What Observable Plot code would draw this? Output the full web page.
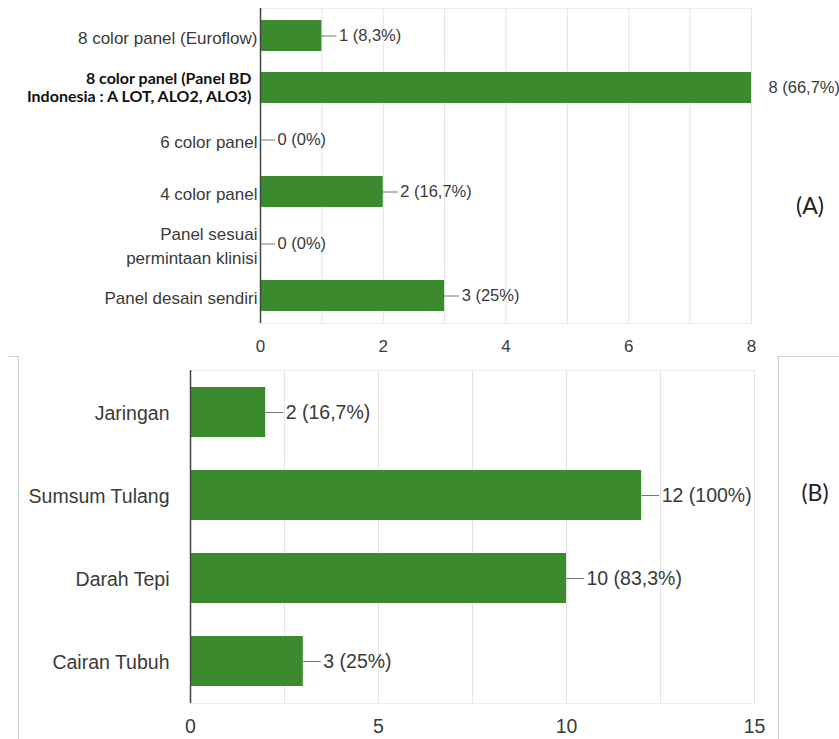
<!DOCTYPE html>
<html>
<head>
<meta charset="utf-8">
<script src="https://cdn.jsdelivr.net/npm/d3@7"></script>
<script src="https://cdn.jsdelivr.net/npm/@observablehq/plot@0.6"></script>
<style>
  html, body { margin: 0; padding: 0; background: #fff; }
  #page { position: relative; width: 839px; height: 739px; overflow: hidden; background: #fff; }
  #page svg { position: absolute; left: 0; overflow: visible; }
  .tag { position: absolute; font-family: Lato, "Open Sans", sans-serif; font-size: 23px; color: #222; transform: translate(-50%, -50%); }
  .edge { position: absolute; background: #cfcfcf; }
</style>
</head>
<body>
<div id="page"></div>
<script>
// Panel (A): flow cytometry panels in use
const panelsA = [
  "8 color panel (Euroflow)",
  "8 color panel (Panel BD\nIndonesia : A LOT, ALO2, ALO3)",
  "6 color panel",
  "4 color panel",
  "Panel sesuai\npermintaan klinisi",
  "Panel desain sendiri"
];
const countsA = [1, 8, 0, 2, 0, 3];
const ticksA = [0, 2, 4, 6, 8];
const emphasizedA = "8 color panel (Panel BD\nIndonesia : A LOT, ALO2, ALO3)";

// Panel (B): specimen types analysed
const specimensB = ["Jaringan", "Sumsum Tulang", "Darah Tepi", "Cairan Tubuh"];
const countsB = [2, 12, 10, 3];
const ticksB = [0, 5, 10, 15];

const respondents = 12;
const green = "#3b8b2e";
const ink = "#3a3a3a";

const pct = v => d3.format(".1~f")(v / respondents * 100).replace(".", ",");
const rows = (labels, counts) => labels.map((label, i) => ({
  label, value: counts[i], text: `${counts[i]} (${pct(counts[i])}%)`
}));

function panel({data, ticks, grid, width, height, left, right, top, bottom,
                font, valueFont, labelGap, valueGap, connector, multiLine}) {
  const xmax = ticks[ticks.length - 1];
  const perUnit = (width - left - right) / xmax;
  const normal = data.filter(d => d.label !== emphasizedA);
  const strong = data.filter(d => d.label === emphasizedA);
  return Plot.plot({
    width, height,
    marginLeft: left, marginRight: right, marginTop: top, marginBottom: bottom,
    style: {fontFamily: "'Liberation Sans', Arial, sans-serif", fontSize: font + "px", color: ink, background: "transparent"},
    x: {domain: [0, xmax], axis: null, label: null},
    y: {domain: data.map(d => d.label), paddingInner: 0.4, paddingOuter: 0.2, axis: null, label: null},
    marks: [
      Plot.frame({stroke: "#ececec"}),
      Plot.gridX(grid, {stroke: "#e4e4e4", strokeOpacity: 1}),
      Plot.barX(data, {x: "value", y: "label", fill: green}),
      Plot.ruleX([0], {stroke: "#444", strokeWidth: 1.5}),
      // leader from each bar end to its value label (omitted where the bar fills the axis)
      Plot.ruleY(data.filter(d => d.value < xmax), {
        y: "label", x1: "value", x2: d => d.value + connector / perUnit,
        stroke: "#777", strokeWidth: 1
      }),
      Plot.text(data, {x: "value", y: "label", text: "text", textAnchor: "start", dx: valueGap, fontSize: valueFont, fill: ink}),
      Plot.text(normal, {y: "label", text: "label", frameAnchor: "left", textAnchor: "end",
                         dx: -labelGap, fontSize: font, lineHeight: multiLine, fill: ink}),
      Plot.text(strong, {y: "label", text: "label", frameAnchor: "left", textAnchor: "end",
                         dx: -labelGap - 6, dy: -1, fontSize: 16, fontWeight: 700, lineHeight: 1.15,
                         fontFamily: "Lato, 'Open Sans', sans-serif", fill: "#111"}),
      Plot.axisX(ticks, {tickSize: 0, tickPadding: 16, fontSize: font, fill: ink, label: null})
    ]
  });
}

const page = document.getElementById("page");

const chartA = panel({
  data: rows(panelsA, countsA), ticks: ticksA, grid: d3.range(1, 9),
  width: 839, height: 356, left: 260, right: 88, top: 8, bottom: 33,
  font: 17, valueFont: 16.5, labelGap: 3, valueGap: 17, connector: 15, multiLine: 1.45
});
chartA.style.top = "0px";
page.appendChild(chartA);

const chartB = panel({
  data: rows(specimensB, countsB), ticks: ticksB, grid: [2.5, 5, 7.5, 10, 12.5, 15],
  width: 839, height: 383, left: 190, right: 85, top: 14, bottom: 36,
  font: 19.5, valueFont: 19.5, labelGap: 21, valueGap: 20, connector: 18, multiLine: 1.2
});
chartB.style.top = "356px";
page.appendChild(chartB);

// outlines of the lower figure box
for (const [l, t, w, h] of [[8, 356, 10, 1], [18, 356, 1, 383], [778, 356, 61, 1], [778, 356, 1, 383]]) {
  const e = document.createElement("div");
  e.className = "edge";
  Object.assign(e.style, {left: l + "px", top: t + "px", width: w + "px", height: h + "px"});
  page.appendChild(e);
}

for (const [txt, x, y] of [["(A)", 810, 205], ["(B)", 815, 492]]) {
  const t = document.createElement("div");
  t.className = "tag";
  t.textContent = txt;
  Object.assign(t.style, {left: x + "px", top: y + "px"});
  page.appendChild(t);
}
</script>
</body>
</html>
